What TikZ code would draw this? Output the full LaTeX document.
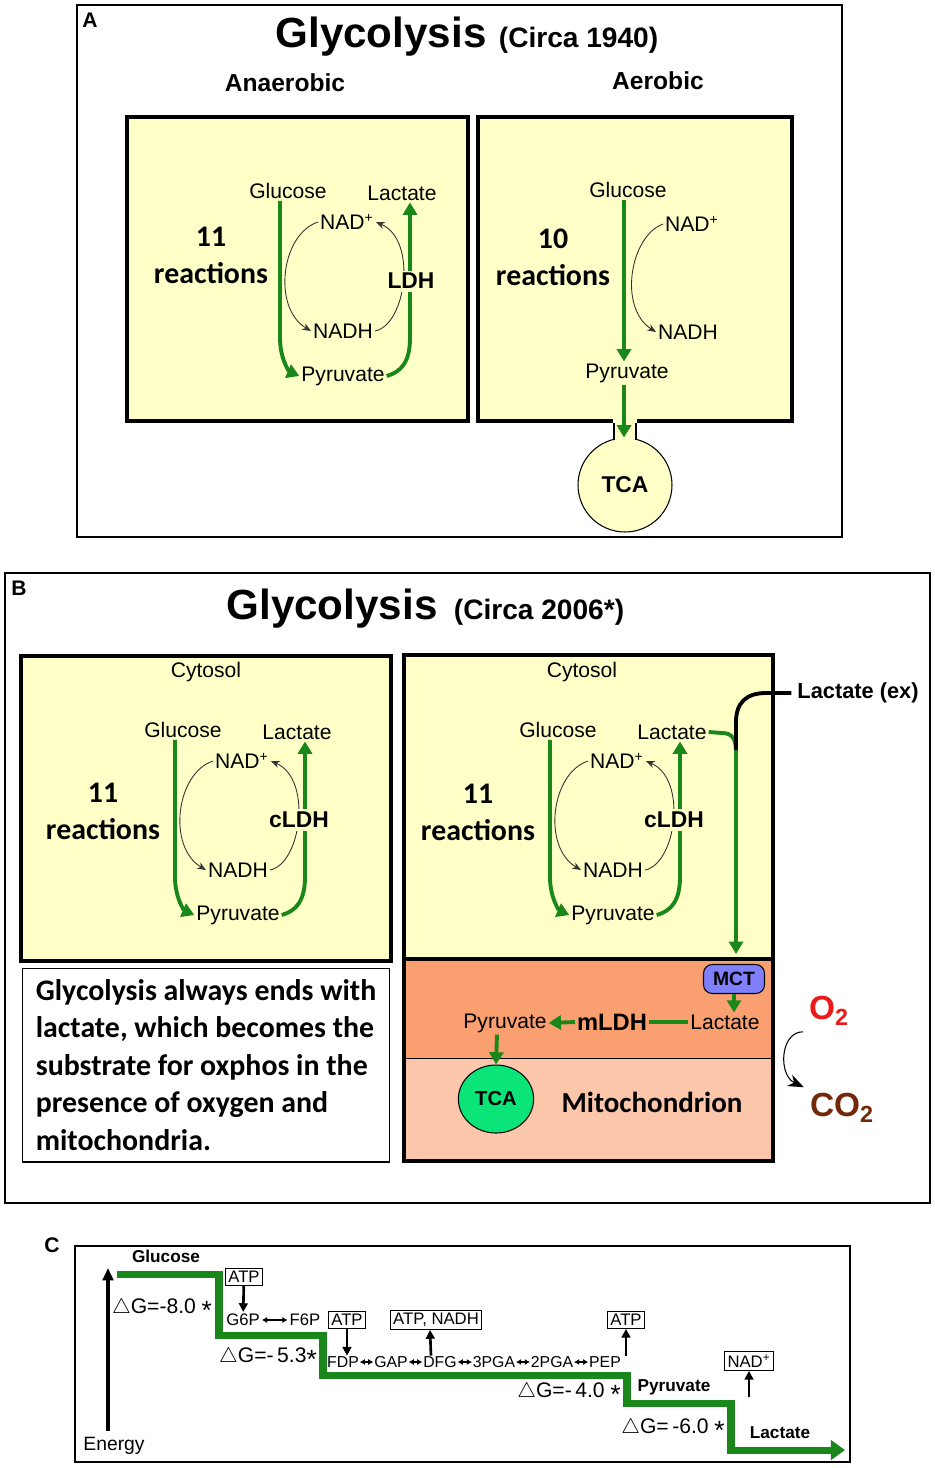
\documentclass[tikz,border=0pt]{standalone}
\usepackage{fontspec}
\setmainfont{Liberation Sans}
\newfontfamily\calibri{Carlito}
\usetikzlibrary{arrows.meta,calc,shapes.geometric}

\definecolor{cellyellow}{RGB}{255,255,200}
\definecolor{pathgreen}{RGB}{25,135,25}
\definecolor{matrixorange}{RGB}{250,160,112}
\definecolor{innerpeach}{RGB}{252,198,170}
\definecolor{mctblue}{RGB}{128,128,255}
\definecolor{tcagreen}{RGB}{10,228,120}
\definecolor{oxred}{RGB}{235,25,25}
\definecolor{cobrown}{RGB}{115,40,10}

\newcommand{\bigast}{{\fontsize{15}{15}\selectfont\raisebox{-0.45ex}{*}}}

\tikzset{
  panel/.style={draw, line width=0.8pt},
  cell/.style={draw, line width=2.8pt, fill=cellyellow},
  flow/.style={draw=pathgreen, line width=2.2pt},
  flowtip/.style={flow, -{Triangle[length=7pt,width=8pt]}},
  cofac/.style={draw=black!80, line width=0.5pt, -{Stealth[length=5pt,width=4pt]}},
  met/.style={font=\fontsize{12}{14}\selectfont, inner sep=1pt},
  enzyme/.style={font=\bfseries\fontsize{13}{15}\selectfont, fill=cellyellow, inner sep=1.5pt},
  rxcount/.style={font=\calibri\bfseries\fontsize{17}{21}\selectfont, align=center},
  heading/.style={font=\bfseries\fontsize{24}{28}\selectfont},
  circa/.style={font=\bfseries\fontsize{16}{19}\selectfont, anchor=base west},
  letter/.style={font=\bfseries\fontsize{12}{14}\selectfont},
  stepname/.style={font=\fontsize{9.5}{11}\selectfont, inner sep=1pt},
  interm/.style={font=\fontsize{9}{10}\selectfont, inner sep=0.3pt},
  cofbox/.style={draw, line width=0.6pt, font=\fontsize{9.5}{11}\selectfont, inner sep=1.5pt},
  dg/.style={font=\fontsize{12}{14}\selectfont, inner sep=0pt},
  stage/.style={font=\bfseries\fontsize{9.8}{12}\selectfont, inner sep=1pt},
  feed/.style={line width=1.5pt, -{Triangle[length=5pt,width=5pt]}},
  interconv/.style={line width=1pt, {Latex[length=3pt,width=3.5pt]}-{Latex[length=3pt,width=3.5pt]}},
}

\begin{document}
\begin{tikzpicture}[x=0.02cm, y=-0.02cm]
\useasboundingbox (0,0) rectangle (935,1468);

% panel A
\draw[panel] (77,5) rectangle (842,537);
\node[letter] (tagA) at (90,20) {A};
\node[heading] (titleA) at (381,37) {Glycolysis};
\node[circa] (circaA) at ($(titleA.base east)+(0,0)$) {(Circa 1940)};
\node[font=\bfseries\fontsize{14}{17}\selectfont] (anaer) at (285,83) {Anaerobic};
\node[font=\bfseries\fontsize{14}{17}\selectfont] (aer) at (658,81) {Aerobic};

\draw[cell] (127,117) rectangle (468,421);
\fill[cellyellow] (478,117) rectangle (792,421);
\draw[line width=2.8pt] (613,421) -- (478,421) -- (478,117) -- (792,117) -- (792,421) -- (637,421);
\node[circle, draw, line width=0.6pt, fill=cellyellow, minimum size=1.88cm, font=\bfseries\fontsize{13}{15}\selectfont] (tcaA) at (625,485) {TCA};
\fill[cellyellow] (614.5,418) rectangle (636.5,445);
\draw[line width=0.6pt] (614,423) -- (614,440) (636,423) -- (636,440);

\node[rxcount] (rxA) at (211,255) {11\\reactions};
\node[rxcount] (rxR) at (553,257) {10\\reactions};
\node[met] (glcR) at (628,190) {Glucose};
\node[met] (nadR) at (692,224) {NAD\textsuperscript{+}};
\node[met] (nadhR) at (688,332) {NADH};
\node[met] (pyrR) at (627,373) {Pyruvate};
\draw[flowtip] (glcR.south -| 624,0) -- (pyrR.north -| 624,0);
\draw[flowtip] (pyrR.south -| 624,0) -- (tcaA.north -| 624,0);
\draw[cofac] (nadR.west) .. controls (630,236) and (618,308) .. (nadhR.west);

% panel B
\draw[panel] (5,573) rectangle (930,1203);
\node[letter] (tagB) at (19,588) {B};
\node[heading] (titleB) at (332,609) {Glycolysis};
\node[circa] (circaB) at ($(titleB.base east)+(4,0)$) {(Circa 2006*)};

\draw[cell] (21,656) rectangle (391,961);
\node[met] (cytb) at (206,672) {Cytosol};
\node[rxcount] (rxb) at (103,811) {11\\reactions};
\node[draw, line width=0.6pt, minimum width=7.36cm, minimum height=3.88cm, align=left,
  font=\calibri\bfseries\fontsize{17}{21.3}\selectfont] (note) at (206,1065)
  {Glycolysis always ends with\\lactate, which becomes the\\substrate for oxphos in the\\presence of oxygen and\\mitochondria.};

\fill[matrixorange] (404,959) rectangle (773,1058);
\fill[innerpeach] (404,1058) rectangle (773,1161);
\draw[line width=0.5pt] (404,1058) -- (773,1058);
\draw[line width=2.8pt] (404,959) rectangle (773,1161);
\draw[cell] (404,655) rectangle (773,959);
\node[met] (cytc) at (582,672) {Cytosol};
\node[rxcount] (rxc) at (478,812) {11\\reactions};

% the three lactate cycles
\foreach \dx/\dy/\s/\enz/\ex in {0/0/a/LDH/411, -105/539/b/cLDH/404, 270/539/c/cLDH/404}{
  \begin{scope}[shift={(\dx,\dy)}]
    \node[met] (glc\s) at (288,191) {Glucose};
    \node[met] (lac\s) at (402,193) {Lactate};
    \node[met] (nad\s) at (347,222) {NAD\textsuperscript{+}};
    \node[met] (nadh\s) at (343,331) {NADH};
    \node[met] (pyr\s) at (343,376) {Pyruvate};
    \draw[flowtip] (glc\s.south -| 280,0) -- (280,338) .. controls (280,360) and (290,372) .. (pyr\s.west);
    \draw[flowtip] (pyr\s.east) .. controls (401,372) and (410,362) .. (410,338) -- (lac\s.south -| 410,0);
    \draw[cofac] (nad\s.west) .. controls (281,234) and (272,308) .. (nadh\s.west);
    \draw[cofac] (nadh\s.east) .. controls (406,325) and (418,240) .. (nad\s.east);
    \node[enzyme] (ldh\s) at (\ex,281) {\enz};
  \end{scope}
}

\node[font=\bfseries\fontsize{12.4}{15}\selectfont] (lacex) at (858,693) {Lactate (ex)};
\coordinate (mctin) at (736,954);
\coordinate (exjoin) at (736,750);
\draw[flowtip] (lacc.east) -- (722,733) .. controls (733,733) and (736,740) .. (736,752) -- (mctin);
\draw[line width=2.2pt] (exjoin) -- (736,722) .. controls (736,703) and (746,693) .. (766,693) -- (lacex.west);

\node[draw, rounded corners=5pt, fill=mctblue, line width=0.6pt, minimum width=1.22cm, minimum height=0.58cm,
  font=\bfseries\fontsize{11}{13}\selectfont] (mct) at (734,979) {MCT};
\node[met] (lacm) at (725,1022) {Lactate};
\node[font=\bfseries\fontsize{13.5}{16}\selectfont, inner sep=1pt] (mldh) at (612,1022) {mLDH};
\node[met] (pyrm) at (505,1023) {Pyruvate};
\node[ellipse, draw, line width=0.6pt, fill=tcagreen, minimum width=1.46cm, minimum height=1.36cm,
  font=\bfseries\fontsize{11.5}{14}\selectfont] (tcam) at (496,1099) {TCA};
\node[font=\calibri\bfseries\fontsize{16.5}{20}\selectfont] (mito) at (652,1102) {Mitochondrion};
\draw[flowtip] (mct.south) -- (lacm.north -| mct.south);
\draw[flow] (lacm.west) -- (mldh.east);
\draw[flowtip] (mldh.west) -- (pyrm.east);
\draw[flowtip] (pyrm.south -| 497,0) -- (tcam.north);

\node[text=oxred, font=\bfseries\fontsize{19}{22}\selectfont] (oxy) at (829,1011) {O\textsubscript{2}};
\node[text=cobrown, font=\bfseries\fontsize{19}{22}\selectfont] (cotwo) at (842,1108) {CO\textsubscript{2}};
\draw[line width=0.6pt, -{Stealth[length=9pt,width=7pt]}] (oxy.south west) .. controls (780,1032) and (778,1075) .. (cotwo.north west);

% panel C
\draw[panel] (75,1246) rectangle (850,1462);
\node[letter] (tagC) at (52,1245) {C};
\node[font=\fontsize{11}{13}\selectfont] (energy) at (114,1446) {Energy};
\coordinate (etop) at (108,1268);
\draw[line width=1.8pt, -{Triangle[length=7pt,width=6pt]}] (energy.north -| etop) -- (etop);
\draw[draw=pathgreen, line width=4pt, -{Triangle[length=8pt,width=11pt]}]
  (117,1274) -| (219,1335) -| (323,1375) -| (627,1403) -| (731,1450) -- (845,1450);

\node[stage] (glcC) at (166,1256) {Glucose};
\node[stage] (pyrC) at (674,1387) {Pyruvate};
\node[stage] (lacC) at (780,1433) {Lactate};
\node[dg] (dg1) at (162,1309) {$\triangle$G=-8.0 \bigast};
\node[dg] (dg2) at (268,1358) {$\triangle$G=-\,5.3\bigast};
\node[dg] (dg3) at (569,1393) {$\triangle$G=-\,4.0 \bigast};
\node[dg] (dg4) at (673,1429) {$\triangle$G=\,-6.0 \bigast};

\node[stepname] (g6p) at (243,1320) {G6P};
\node[stepname] (f6p) at (305,1320) {F6P};
\draw[interconv] (g6p) -- (f6p);
\foreach \n/\t/\x in {fdp/FDP/343, gap/GAP/391, dfg/DFG/440, pgaiii/3PGA/494, pgaii/2PGA/552, pep/PEP/605}
  \node[interm] (\n) at (\x,1362) {\t};
\foreach \a/\b in {fdp/gap, gap/dfg, dfg/pgaiii, pgaiii/pgaii, pgaii/pep}
  \draw[interconv] (\a) -- (\b);

\node[cofbox] (atpi) at (244,1277) {ATP};
\node[cofbox] (atpii) at (347,1320) {ATP};
\node[cofbox] (atpnadh) at (436,1320) {ATP, NADH};
\node[cofbox] (atpiii) at (626,1320) {ATP};
\node[cofbox] (nadC) at (749,1361) {NAD\textsuperscript{+}};
\coordinate (ldhC) at (749,1397);
\draw[feed] (atpi) -- (g6p);
\draw[feed] (atpii.south) -- (fdp.north -| atpii.south);
\draw[feed] ($(dfg.north)+(-9,0)$) -- ($(atpnadh.south)+(-6,0)$);
\draw[feed] (pep.north -| atpiii.south) -- (atpiii.south);
\draw[feed] (ldhC) -- (nadC);
\end{tikzpicture}
\end{document}
